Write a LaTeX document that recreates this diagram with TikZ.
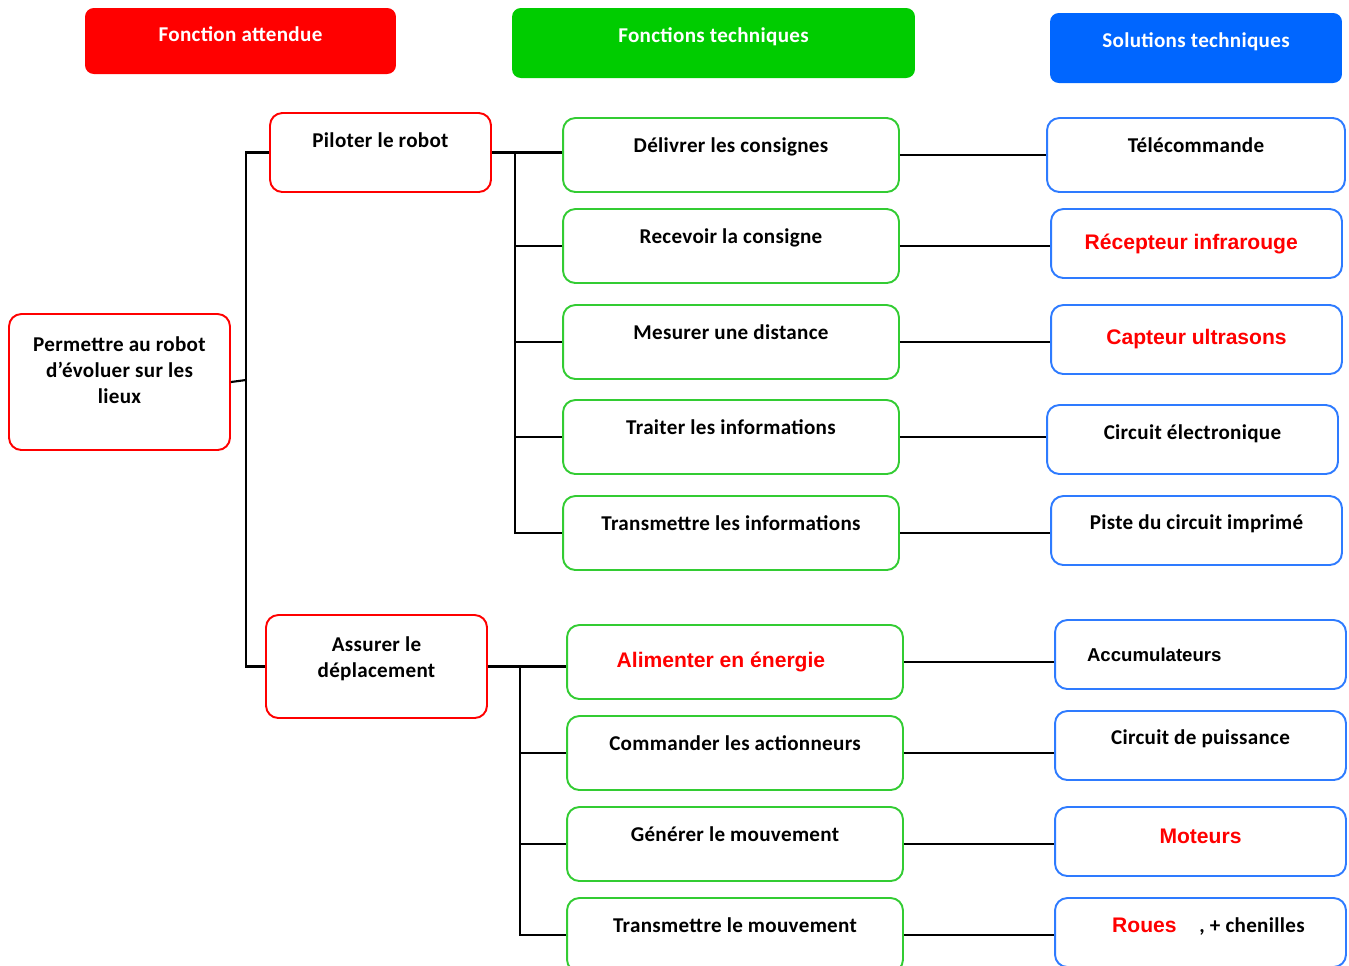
\documentclass[tikz,border=0pt]{standalone}
\usepackage{fontspec}
\setmainfont{Carlito}[LetterSpace=1.5]
\newfontfamily\arialf{Liberation Sans}
\usepackage{tikz}
\usetikzlibrary{calc}
\definecolor{hdrred}{HTML}{FF0000}
\definecolor{hdrgreen}{HTML}{00CC00}
\definecolor{hdrblue}{HTML}{0066FF}
\definecolor{boxgreen}{HTML}{33CC33}
\definecolor{boxblue}{HTML}{2E7BFF}
\newcommand{\redtxt}[1]{\textcolor{hdrred}{\arialf\bfseries\fontsize{12}{14}\selectfont #1}}

\begin{document}
\begin{tikzpicture}[x=0.02cm, y=-0.02cm,
      hdr/.style={rounded corners=5pt, text=white, font=\fontsize{12}{14}\selectfont\bfseries,
                  align=center},
      fbox/.style={draw=hdrred, line width=1.1pt, rounded corners=7pt, fill=white,
                   minimum width=4.42cm, font=\fontsize{12}{14.7}\selectfont\bfseries, align=center},
      gbox/.style={draw=boxgreen, line width=1.1pt, rounded corners=7pt, fill=white,
                   minimum width=6.72cm, minimum height=1.48cm,
                   font=\fontsize{12}{14}\selectfont\bfseries, align=center},
      sbox/.style={draw=boxblue, line width=1.1pt, rounded corners=7pt, fill=white,
                   minimum width=5.82cm, minimum height=1.38cm,
                   font=\fontsize{12}{14}\selectfont\bfseries, align=center},
      up/.style={text depth=#1},
      link/.style={line width=1.2pt, black}
    ]
    \useasboundingbox (0,0) rectangle (1349,965);

    \node[hdr, fill=hdrred, minimum width=6.22cm, minimum height=1.32cm, up=0.28cm]
          (hdrfa) at (240.5,41) {Fonction attendue};
    \node[hdr, fill=hdrgreen, minimum width=8.06cm, minimum height=1.40cm, up=0.32cm]
          (hdrft) at (713.5,43) {Fonctions techniques};
    \node[hdr, fill=hdrblue, minimum width=5.84cm, minimum height=1.40cm, up=0.32cm]
          (hdrst) at (1196,48) {Solutions techniques};

    \node[fbox, minimum height=2.72cm, up=0.48cm] (perm) at (119.5,382)
          {Permettre au robot\\d’évoluer sur les\\lieux};
    \node[fbox, minimum height=1.58cm, up=0.5cm] (pil) at (380.5,152.5) {Piloter le robot};
    \node[fbox, minimum height=2.06cm, up=0.38cm] (ass) at (376.5,666.5) {Assurer le\\déplacement};

    \node[gbox, up=0.4cm] (g1) at (731,155) {Délivrer les consignes};
    \node[gbox, up=0.4cm] (g2) at (731,246) {Recevoir la consigne};
    \node[gbox, up=0.4cm] (g3) at (731,342) {Mesurer une distance};
    \node[gbox, up=0.4cm] (g4) at (731,437) {Traiter les informations};
    \node[gbox, up=0.4cm] (g5) at (731,533) {Transmettre les informations};
    \node[gbox] (g6) at (735,662) {\redtxt{Alimenter en énergie}\hspace*{16pt}};
    \node[gbox, up=0.4cm] (g7) at (735,753) {Commander les actionneurs};
    \node[gbox, up=0.4cm] (g8) at (735,844) {Générer le mouvement};
    \node[gbox, up=0.4cm] (g9) at (735,935) {Transmettre le mouvement};

    \node[sbox, minimum width=5.96cm, minimum height=1.48cm, up=0.4cm] (s1) at (1196,155) {Télécommande};
    \node[sbox] (s2) at (1196.5,243.5) {\redtxt{Récepteur infrarouge}\hspace*{6pt}};
    \node[sbox] (s3) at (1196.5,339.5) {\redtxt{Capteur ultrasons}};
    \node[sbox, up=0.3cm] (s4) at (1192.5,439.5) {Circuit électronique};
    \node[sbox, up=0.34cm] (s5) at (1196.5,530.5) {Piste du circuit imprimé};
    \node[sbox, align=left, inner xsep=0.64cm, text width=4.54cm, minimum width=0pt,
          font=\arialf\fontsize{10.6}{12}\selectfont\bfseries] (s6) at (1200.5,654.5) {Accumulateurs};
    \node[sbox, up=0.34cm] (s7) at (1200.5,745.5) {Circuit de puissance};
    \node[sbox, up=0.2cm] (s8) at (1200.5,841.5) {\redtxt{Moteurs}};
    \node[sbox, up=0.3cm] (s9) at (1200.5,932.5) {\hspace*{9pt}\redtxt{Roues}\hspace{13pt}, + chenilles};

    \coordinate (trA) at (246,380);
    \coordinate (trB) at (515,150);
    \coordinate (trC) at (520,662);

    \draw[link] (perm.east) -- (trA);
    \draw[link] (pil.west) -| (trA) |- (ass.west);

    \draw[link] (pil.east) -- (pil.east -| g1.west);
    \draw[link] (pil.east -| trB) |- (g5.west);
    \foreach \i in {2,3,4}
      \draw[link] (trB |- g\i.west) -- (g\i.west);

    \draw[link] (ass.east) -- (ass.east -| g6.west);
    \draw[link] (ass.east -| trC) |- (g9.west);
    \foreach \i in {7,8}
      \draw[link] (trC |- g\i.west) -- (g\i.west);

    \foreach \i in {1,...,9}
      \draw[link] (g\i.east) -- (g\i.east -| s\i.west);
  \end{tikzpicture}
\end{document}
